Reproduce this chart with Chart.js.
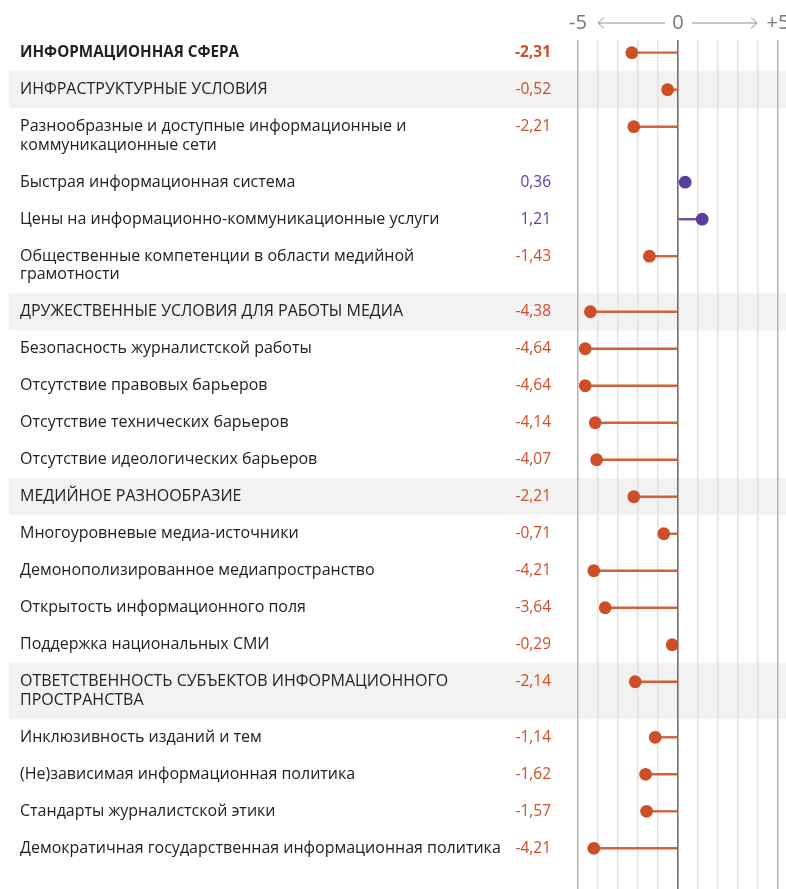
<!DOCTYPE html>
<html><head><meta charset="utf-8">
<script src="https://cdn.jsdelivr.net/npm/chart.js@4/dist/chart.umd.min.js"></script>
<style>html,body{margin:0;padding:0;background:#fff}#wrap{width:786px;height:889px;position:relative}</style>
</head><body><div id="wrap"><canvas id="c" width="786" height="889"></canvas></div>
<script>
const labels = [
  'ИНФОРМАЦИОННАЯ СФЕРА',
  'ИНФРАСТРУКТУРНЫЕ УСЛОВИЯ',
  'Разнообразные и доступные информационные и\nкоммуникационные сети',
  'Быстрая информационная система',
  'Цены на информационно-коммуникационные услуги',
  'Общественные компетенции в области медийной\nграмотности',
  'ДРУЖЕСТВЕННЫЕ УСЛОВИЯ ДЛЯ РАБОТЫ МЕДИА',
  'Безопасность журналистской работы',
  'Отсутствие правовых барьеров',
  'Отсутствие технических барьеров',
  'Отсутствие идеологических барьеров',
  'МЕДИЙНОЕ РАЗНООБРАЗИЕ',
  'Многоуровневые медиа-источники',
  'Демонополизированное медиапространство',
  'Открытость информационного поля',
  'Поддержка национальных СМИ',
  'ОТВЕТСТВЕННОСТЬ СУБЪЕКТОВ ИНФОРМАЦИОННОГО\nПРОСТРАНСТВА',
  'Инклюзивность изданий и тем',
  '(Не)зависимая информационная политика',
  'Стандарты журналистской этики',
  'Демократичная государственная информационная политика'
];
const values = [-2.31, -0.52, -2.21, 0.36, 1.21, -1.43, -4.38, -4.64, -4.64, -4.14, -4.07,
  -2.21, -0.71, -4.21, -3.64, -0.29, -2.14, -1.14, -1.62, -1.57, -4.21];
const rowTypes = ['total','group','item','item','item','item','group','item','item','item','item',
  'group','item','item','item','item','group','item','item','item','item'];
const xTickLabels = {'-5': '-5', '0': '0', '5': '+5'};

const NEG = '#cc4f28', POS = '#5a3d9e';
const NEG_STEM = '#d2603a', POS_STEM = '#6a50a8';
const FONT = '"Open Sans", "Noto Sans", sans-serif';

// row positions derived from label line counts
const lineCounts = labels.map(l => l.split('\n').length);
const positions = [];
labels.forEach((l, i) => {
  positions.push(i === 0 ? 0 : positions[i-1] + 1 + 0.5 * (lineCounts[i-1] - 1));
});
const colorOf = v => v < 0 ? NEG : POS;
const stemOf = v => v < 0 ? NEG_STEM : POS_STEM;

const rowPlugin = {
  id: 'rows',
  beforeDraw(chart) {
    const ctx = chart.ctx, y = chart.scales.y;
    ctx.save();
    ctx.fillStyle = '#f2f2f2';
    positions.forEach((p, i) => {
      if (rowTypes[i] !== 'group') return;
      const top = y.getPixelForValue(p - 0.5);
      const bot = y.getPixelForValue(p + 0.5 + 0.5 * (lineCounts[i] - 1));
      ctx.fillRect(9, top, chart.width - 9, bot - top);
    });
    ctx.restore();
  },
  afterDraw(chart) {
    const ctx = chart.ctx, y = chart.scales.y, x = chart.scales.x;
    ctx.save();
    ctx.textBaseline = 'middle';
    positions.forEach((p, i) => {
      const py = y.getPixelForValue(p);
      const bold = rowTypes[i] === 'total';
      ctx.font = (bold ? 'bold 15.2px ' : '16px ') + FONT;
      ctx.fillStyle = '#222';
      ctx.textAlign = 'left';
      labels[i].split('\n').forEach((line, k) => ctx.fillText(line, 20, py + k * 18.5));
      ctx.font = (bold ? 'bold ' : '') + '15.5px ' + FONT;
      ctx.fillStyle = colorOf(values[i]);
      ctx.textAlign = 'right';
      ctx.fillText(values[i].toFixed(2).replace('.', ','), 551, py);
    });
    // header arrows
    const ay = 23;
    ctx.strokeStyle = '#909090';
    ctx.lineWidth = 1;
    const l0 = x.getPixelForValue(-5) + 20, l1 = x.getPixelForValue(0) - 13;
    const r0 = x.getPixelForValue(0) + 14, r1 = x.getPixelForValue(5) - 21;
    ctx.beginPath();
    ctx.moveTo(l0, ay); ctx.lineTo(l1, ay);
    ctx.moveTo(l0 + 6, ay - 5.5); ctx.lineTo(l0, ay); ctx.lineTo(l0 + 6, ay + 5.5);
    ctx.moveTo(r0, ay); ctx.lineTo(r1, ay);
    ctx.moveTo(r1 - 6, ay - 5.5); ctx.lineTo(r1, ay); ctx.lineTo(r1 - 6, ay + 5.5);
    ctx.stroke();
    ctx.restore();
  }
};

new Chart(document.getElementById('c'), {
  data: {
    datasets: [
      {
        type: 'bar',
        indexAxis: 'y',
        data: values.map((v, i) => ({ x: [0, v], y: positions[i] })),
        backgroundColor: values.map(stemOf),
        barThickness: 1.7,
        borderWidth: 0,
        order: 2
      },
      {
        type: 'scatter',
        data: values.map((v, i) => ({ x: v, y: positions[i] })),
        pointRadius: 6.4,
        pointBackgroundColor: values.map(colorOf),
        pointBorderWidth: 0,
        order: 1
      }
    ]
  },
  options: {
    responsive: false,
    animation: false,
    events: [],
    layout: { autoPadding: false, padding: { left: 578, right: 8, top: 0, bottom: 0 } },
    plugins: { legend: { display: false }, tooltip: { enabled: false } },
    scales: {
      x: {
        type: 'linear',
        position: 'top',
        min: -5, max: 5,
        afterFit: s => { s.height = 40; s.paddingLeft = 0; s.paddingRight = 0; },
        border: { display: false },
        grid: {
          drawTicks: false,
          lineWidth: ctx => (ctx.tick && ctx.tick.value === 0) ? 1.6 : 1.5,
          color: ctx => {
            const v = ctx.tick ? ctx.tick.value : null;
            if (v === 0) return '#6e6e6e';
            if (v === -5 || v === 5) return '#b4b4b4';
            return '#e2e2e2';
          }
        },
        ticks: {
          stepSize: 1,
          autoSkip: false,
          maxRotation: 0,
          padding: 5,
          color: '#777',
          font: { family: FONT, size: 20 },
          callback: v => xTickLabels[String(v)] || ''
        }
      },
      y: {
        type: 'linear',
        reverse: true,
        offset: false,
        min: -0.343,
        max: 22.6,
        display: false
      }
    }
  },
  plugins: [rowPlugin]
});
</script></body></html>
